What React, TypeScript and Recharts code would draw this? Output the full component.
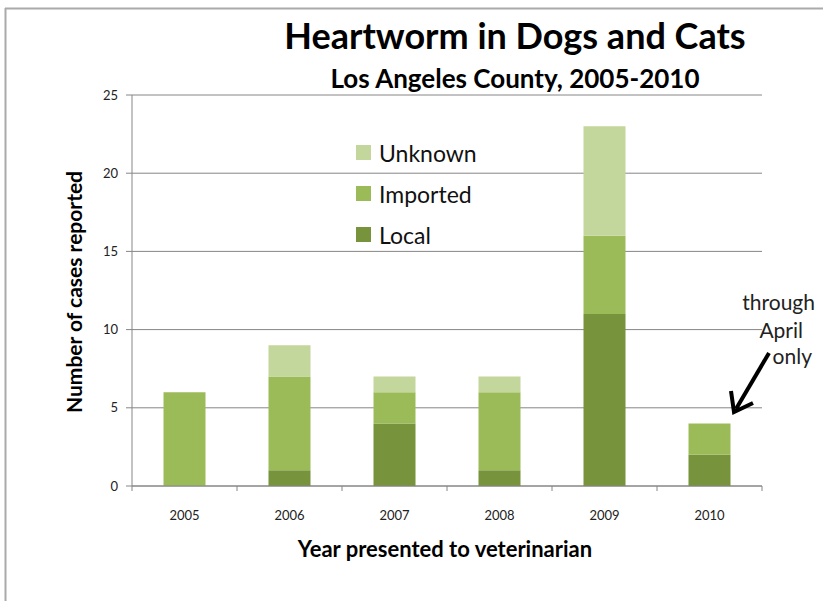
import React from "react";
import {
  BarChart,
  Bar,
  XAxis,
  YAxis,
  CartesianGrid,
  Legend,
} from "recharts";

const years = ["2005", "2006", "2007", "2008", "2009", "2010"];
const local = [0, 1, 4, 1, 11, 2];
const imported = [6, 6, 2, 5, 5, 2];
const unknown = [0, 2, 1, 1, 7, 0];
const yTicks = [0, 5, 10, 15, 20, 25];

const seriesOrder = ["Unknown", "Imported", "Local"];
const colors: Record<string, string> = {
  Local: "#77933C",
  Imported: "#9BBB59",
  Unknown: "#C3D69B",
};

const data = years.map((year, i) => ({
  year,
  Local: local[i],
  Imported: imported[i],
  Unknown: unknown[i],
}));

const FONT = "Lato, 'Open Sans', sans-serif";
const BAND = 105; // category width in px

// x tick: label centred, tick marks at category boundaries
function YearTick(props: any) {
  const { x, y, payload, index } = props;
  const left = x - BAND / 2;
  return (
    <g>
      <line x1={left} y1={y - 8} x2={left} y2={y - 3} stroke="#868686" />
      {index === years.length - 1 && (
        <line x1={left + BAND} y1={y - 8} x2={left + BAND} y2={y - 3} stroke="#868686" />
      )}
      <text x={x} y={y + 26} textAnchor="middle" fontSize={13} fill="#222" fontFamily={FONT}>
        {payload.value}
      </text>
    </g>
  );
}

function LegendBox(props: any) {
  const items = [...(props.payload || [])].sort(
    (a: any, b: any) => seriesOrder.indexOf(a.value) - seriesOrder.indexOf(b.value)
  );
  return (
    <div style={{ fontFamily: FONT }}>
      {items.map((it: any) => (
        <div key={it.value} style={{ display: "flex", alignItems: "center", height: 41 }}>
          <span
            style={{
              width: 15,
              height: 15,
              background: colors[it.value],
              display: "inline-block",
              marginRight: 8,
            }}
          />
          <span style={{ fontSize: 23, color: "#111" }}>{it.value}</span>
        </div>
      ))}
    </div>
  );
}

export default function App() {
  return (
    <div style={{ position: "absolute", left: 0, top: 0, width: 823, height: 601, background: "#fff" }}>
      <BarChart
        width={823}
        height={601}
        data={data}
        margin={{ top: 95, right: 61, left: 0, bottom: 85 }}
        barCategoryGap="30%"
      >
        <CartesianGrid vertical={false} stroke="#868686" />
        <XAxis
          dataKey="year"
          axisLine={{ stroke: "#868686" }}
          tickLine={false}
          tick={<YearTick />}
          height={30}
          interval={0}
        />
        <YAxis
          width={132}
          domain={[0, 25]}
          ticks={yTicks}
          axisLine={{ stroke: "#868686" }}
          tickLine={{ stroke: "#868686" }}
          tickSize={6}
          tickMargin={8}
          tick={{ fontSize: 13, fill: "#222", fontFamily: FONT }}
        />
        <Legend
          layout="vertical"
          verticalAlign="middle"
          align="center"
          content={<LegendBox />}
          wrapperStyle={{ left: 356, top: 132, width: 160 }}
        />
        <Bar dataKey="Local" stackId="a" fill={colors.Local} isAnimationActive={false} />
        <Bar dataKey="Imported" stackId="a" fill={colors.Imported} isAnimationActive={false} />
        <Bar dataKey="Unknown" stackId="a" fill={colors.Unknown} isAnimationActive={false} />
      </BarChart>

      <svg
        width={823}
        height={601}
        style={{ position: "absolute", left: 0, top: 0, pointerEvents: "none" }}
        fontFamily={FONT}
      >
        {/* frame */}
        <line x1={5.5} y1={8} x2={5.5} y2={601} stroke="#aaa" strokeWidth={2} />
        <line x1={5} y1={8.5} x2={823} y2={8.5} stroke="#aaa" strokeWidth={2} />

        <text x={515} y={49} textAnchor="middle" fontSize={36} fontWeight="bold" fill="#000">
          Heartworm in Dogs and Cats
        </text>
        <text x={515} y={88} textAnchor="middle" fontSize={26} fontWeight="bold" fill="#000">
          Los Angeles County, 2005-2010
        </text>
        <text
          x={0}
          y={0}
          transform="translate(82,292) rotate(-90)"
          textAnchor="middle"
          fontSize={21}
          fontWeight="bold"
          fill="#000"
        >
          Number of cases reported
        </text>
        <text x={445} y={557} textAnchor="middle" fontSize={22} fontWeight="bold" fill="#000">
          Year presented to veterinarian
        </text>

        {/* annotation */}
        <g fontSize={21} fill="#222" textAnchor="end">
          <text x={815} y={310}>through</text>
          <text x={803} y={338}>April</text>
          <text x={812} y={364}>only</text>
        </g>
        <line x1={769} y1={353} x2={736} y2={409} stroke="#000" strokeWidth={4} />
        <polyline
          points="731,391 734,412 753,403"
          fill="none"
          stroke="#000"
          strokeWidth={4}
          strokeLinejoin="miter"
        />
      </svg>
    </div>
  );
}
